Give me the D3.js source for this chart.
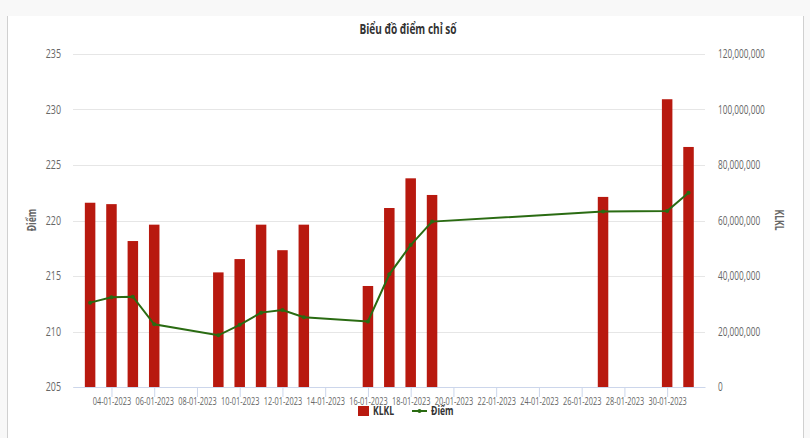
<!DOCTYPE html>
<html><head><meta charset="utf-8">
<script src="https://cdn.jsdelivr.net/npm/d3@7/dist/d3.min.js"></script>
<style>
html,body{margin:0;padding:0;background:#f8f8f8;}
svg{display:block;}
</style></head>
<body>
<svg id="c" width="810" height="438"></svg>
<script>
const dates = ["2023-01-03","2023-01-04","2023-01-05","2023-01-06","2023-01-09","2023-01-10","2023-01-11","2023-01-12","2023-01-13","2023-01-16","2023-01-17","2023-01-18","2023-01-19","2023-01-27","2023-01-30","2023-01-31"];
const klkl = [66400000,65900000,52600000,58500000,41300000,46100000,58500000,49300000,58500000,36400000,64500000,75200000,69200000,68500000,103700000,86500000];
const diem = [212.6,213.08,213.13,210.65,209.66,210.6,211.7,211.94,211.28,210.9,215.15,217.79,219.9,220.8,220.86,222.5];
const leftTicks = [205,210,215,220,225,230,235];
const rightTicks = [0,20000000,40000000,60000000,80000000,100000000,120000000];
const title = "Biểu đồ điểm chỉ số";
const seriesNames = ["KLKL","Điểm"];

const font = "'Open Sans',sans-serif";
const svg = d3.select("#c");
const parse = d3.utcParse("%Y-%m-%d");
const fmtDate = d3.utcFormat("%d-%m-%Y");
const D = dates.map(parse);

const L=73, R=705, T=54, B=387;
// text with horizontal condensing via transform (mimics a narrow font)
function ntext(parent, px, py, str, o){
  return parent.append("text")
    .attr("transform", `translate(${px},${py}) rotate(${o.rot||0}) scale(${o.k},1)`)
    .attr("text-anchor", o.anchor||"start")
    .attr("font-family", font).attr("font-size", o.size)
    .attr("font-weight", o.bold ? "bold" : "normal")
    .attr("fill", o.fill || "#666").text(str);
}
// panel
svg.append("rect").attr("x",7).attr("y",16).attr("width",797).attr("height",422).attr("fill","#fff");
svg.append("line").attr("x1",7.5).attr("x2",7.5).attr("y1",16).attr("y2",438).attr("stroke","#d0d0d0");
svg.append("line").attr("x1",803.5).attr("x2",803.5).attr("y1",16).attr("y2",438).attr("stroke","#d0d0d0");

const x = d3.scaleUtc()
  .domain([new Date(Date.UTC(2023,0,2,4,48)), new Date(Date.UTC(2023,0,31,18,30))])
  .range([L,R]);
const yL = d3.scaleLinear().domain([205,235]).range([B,T]);
const yR = d3.scaleLinear().domain([0,120000000]).range([B,T]);

// grid
svg.append("g").selectAll("line").data(leftTicks).join("line")
  .attr("x1",L).attr("x2",R).attr("y1",d=>Math.round(yL(d))+0.5).attr("y2",d=>Math.round(yL(d))+0.5)
  .attr("stroke","#e6e6e6");

// left axis labels
const gl = svg.append("g");
leftTicks.forEach(d => ntext(gl, 61, yL(d)+4, d, {k:0.74, size:12, anchor:"end"}));
// right axis labels
const fmtR = d3.format(",");
const gr = svg.append("g");
rightTicks.forEach(d => ntext(gr, 718, yR(d)+4, fmtR(d), {k:0.69, size:12}));

// axis titles
ntext(svg, 36, 220, "Điểm", {k:0.72, size:12, bold:true, anchor:"middle", rot:-90});
ntext(svg, 775, 220, "KLKL", {k:0.72, size:12, bold:true, anchor:"middle", rot:90});

// bars
const bw = 10.5;
svg.append("g").selectAll("rect").data(D).join("rect")
  .attr("x",(d)=>x(d)-bw/2).attr("width",bw)
  .attr("y",(d,i)=>yR(klkl[i])).attr("height",(d,i)=>B-yR(klkl[i]))
  .attr("fill","#b8190f");

// x axis
const xTickVals = d3.utcDay.range(new Date(Date.UTC(2023,0,4)), new Date(Date.UTC(2023,0,31)), 2);
const xa = svg.append("g").attr("transform",`translate(0,${B})`)
  .call(d3.axisBottom(x).tickValues(xTickVals).tickFormat(fmtDate).tickSize(10).tickSizeOuter(0).tickPadding(3));
xa.select(".domain").attr("stroke","#ccd6eb");
xa.selectAll(".tick line").attr("stroke","#ccd6eb");
xa.selectAll(".tick text").attr("font-family",font).attr("font-size",11.5).attr("fill","#666")
  .attr("x",null).attr("y",null).attr("dy",null)
  .attr("transform","translate(0,17.5) scale(0.64,1)");

// line
const line = d3.line().x((d)=>x(d)).y((d,i)=>yL(diem[i]));
svg.append("path").datum(D).attr("d",line).attr("fill","none").attr("stroke","#2a6b12").attr("stroke-width",2);
svg.append("g").selectAll("circle").data(D).join("circle")
  .attr("cx",d=>x(d)).attr("cy",(d,i)=>yL(diem[i])).attr("r",2).attr("fill","#2a6b12");

// title
ntext(svg, 408, 34, title, {k:0.72, size:14, bold:true, anchor:"middle", fill:"#333"});

// legend
const lg = svg.append("g");
lg.append("rect").attr("x",358).attr("y",406).attr("width",11).attr("height",10).attr("fill","#b8190f");
ntext(lg, 373, 415, seriesNames[0], {k:0.72, size:12, bold:true, fill:"#333"});
lg.append("line").attr("x1",412).attr("x2",427).attr("y1",411).attr("y2",411).attr("stroke","#2a6b12").attr("stroke-width",2);
lg.append("circle").attr("cx",419.5).attr("cy",411).attr("r",2).attr("fill","#2a6b12");
ntext(lg, 431, 415, seriesNames[1], {k:0.72, size:12, bold:true, fill:"#333"});
</script>
</body></html>
